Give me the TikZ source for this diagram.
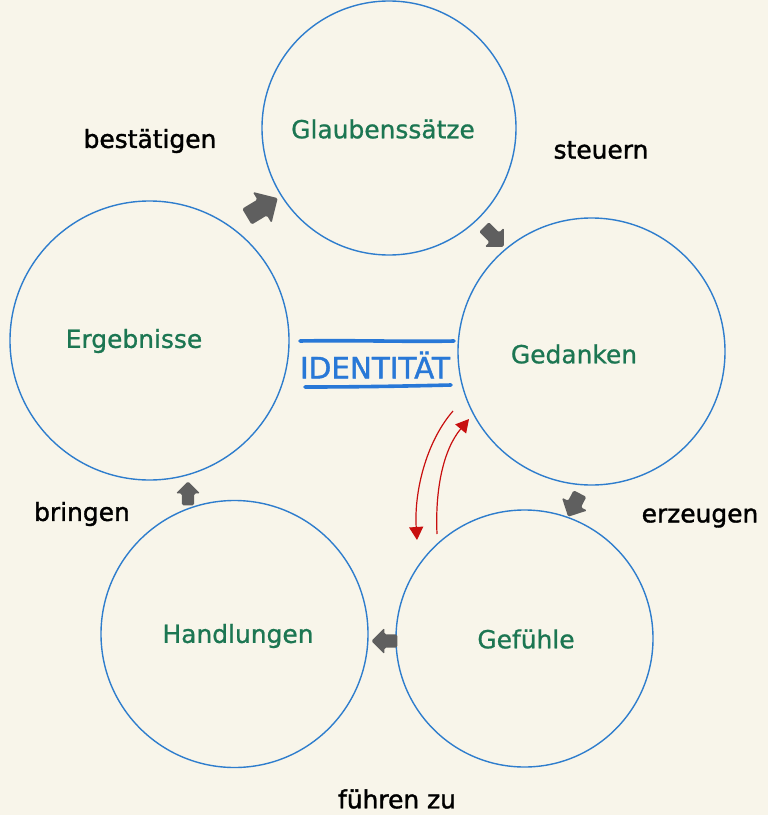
\documentclass[tikz,border=0pt]{standalone}
\usepackage{fontspec}
\setmainfont{DejaVu Sans}
\newfontfamily\handfont[FakeBold=0.9]{DejaVu Sans}
\newfontfamily\handfontb[FakeBold=1.4]{DejaVu Sans}
\usetikzlibrary{shapes.arrows, arrows.meta}
\definecolor{bg}{RGB}{248,245,234}
\definecolor{circblue}{RGB}{46,125,205}
\definecolor{txtgreen}{RGB}{28,118,82}
\definecolor{idblue}{RGB}{40,120,215}
\definecolor{arrgray}{RGB}{95,95,95}
\definecolor{redarr}{RGB}{200,15,15}
\begin{document}
\begin{tikzpicture}[x=1bp,y=-1bp,
  ring/.style={circle, draw=circblue, line width=1.4bp, inner sep=0pt},
  boxtext/.style={text=txtgreen, font=\handfont\fontsize{25}{28}\selectfont, inner sep=0pt},
  verb/.style={text=black, font=\handfontb\fontsize{25}{28}\selectfont, inner sep=0pt},
  blockarrow/.style={single arrow, fill=arrgray, draw=none, inner xsep=0pt, inner ysep=6.5bp,
    minimum height=26bp, minimum width=26bp, single arrow head extend=6.5bp,
    anchor=tip, rounded corners=1.5bp},
  redline/.style={draw=redarr, line width=1.2bp, -{Triangle[length=13bp,width=14bp]}},
  idline/.style={draw=idblue, line width=3.6bp, line cap=round}
]
\fill[bg] (0,0) rectangle (768,815);
\useasboundingbox (0,0) rectangle (768,815);

% circles
\node[ring, minimum size=254bp] (glaub) at (389,128) {};
\node[ring, minimum size=267bp] (gedank) at (591.5,351.5) {};
\node[ring, minimum size=279bp] (ergeb) at (149.5,340.5) {};
\node[ring, minimum size=267bp] (handl) at (234.5,634) {};
\node[ring, minimum size=257bp] (gefuehl) at (524.5,638.5) {};

% circle texts
\node[boxtext] (tglaub) at (383,129) {Glaubenssätze};
\node[boxtext] (tgedank) at (574,354) {Gedanken};
\node[boxtext] (tergeb) at (134,341) {Ergebnisse};
\node[boxtext] (thandl) at (238,636) {Handlungen};
\node[boxtext] (tgefuehl) at (526,639) {Gefühle};

% verbs
\node[verb] (vbest) at (150,141) {bestätigen};
\node[verb] (vsteu) at (601,150) {steuern};
\node[verb] (verz) at (700,518) {erzeugen};
\node[verb] (vbring) at (82,514) {bringen};
\node[verb] (vfuehr) at (397,799) {führen zu};

% identity
\node[text=idblue, font=\handfontb\fontsize{29.5}{32}\selectfont, inner sep=0pt] (ident) at (375,365) {IDENTITÄT};
\coordinate (il1a) at (300,341);
\coordinate (il1b) at (454,341);
\coordinate (il2a) at (305,387);
\coordinate (il2b) at (451,385);
\draw[idline] (il1a) .. controls (350,340) and (410,342) .. (il1b);
\draw[idline] (il2a) .. controls (360,387) and (410,386) .. (il2b);

% block arrows
\node[blockarrow, minimum height=36bp, minimum width=36bp, inner ysep=9bp, single arrow head extend=9bp, rotate=31] (a1) at (278,198) {};
\node[blockarrow, minimum height=28bp, minimum width=27bp, rotate=-45] (a2) at (504,247) {};
\node[blockarrow, minimum width=28bp, inner ysep=7bp, single arrow head extend=7bp, rotate=-117] (a3) at (568,517) {};
\node[blockarrow, rotate=180] (a4) at (371,641) {};
\node[blockarrow, minimum height=24bp, minimum width=24bp, inner ysep=6bp, single arrow head extend=6bp, rotate=90] (a5) at (188,481) {};

% red arrows
\coordinate (r1s) at (453,411);
\coordinate (r1e) at (417,540);
\coordinate (r2s) at (437,534);
\coordinate (r2e) at (469,419);
\draw[redline] (r1s) .. controls (426,442) and (414,492) .. (r1e);
\draw[redline] (r2s) .. controls (435,490) and (443,450) .. (r2e);
\end{tikzpicture}
\end{document}
